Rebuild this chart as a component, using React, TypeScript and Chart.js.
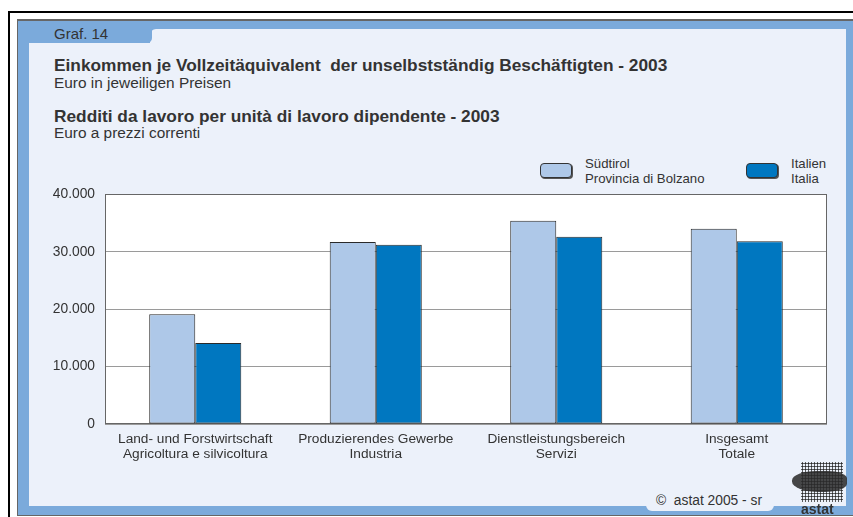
import React, { useEffect, useRef } from "react";
import { Chart, registerables } from "chart.js";

Chart.register(...registerables);

const categoriesDe = ["Land- und Forstwirtschaft", "Produzierendes Gewerbe", "Dienstleistungsbereich", "Insgesamt"];
const categoriesIt = ["Agricoltura e silvicoltura", "Industria", "Servizi", "Totale"];
const seriesNamesDe = ["Südtirol", "Italien"];
const seriesNamesIt = ["Provincia di Bolzano", "Italia"];
const suedtirolValues = [19100, 31700, 35400, 34000];
const italiaValues = [14100, 31200, 32600, 31800];
const yTickValues = [0, 10000, 20000, 30000, 40000];

const FONT = '"Liberation Sans", Arial, Helvetica, sans-serif';
const TEXT = "#333333";
const LIGHT_BAR = "#AEC8E8";
const DARK_BAR = "#0077C0";
const PANEL = "#ECF1FA";
const BLUE = "#7BAADB";

const fmt = (v: number) => (v === 0 ? "0" : String(v).replace(/\B(?=(\d{3})+(?!\d))/g, "."));

const plotFrame = {
  id: "plotFrame",
  beforeDraw(chart: any) {
    const { ctx, chartArea: a } = chart;
    ctx.save();
    ctx.fillStyle = "#ffffff";
    ctx.fillRect(a.left, a.top, a.right - a.left, a.bottom - a.top);
    ctx.restore();
  },
  beforeDatasetsDraw(chart: any) {
    const { ctx, chartArea: a } = chart;
    ctx.save();
    ctx.strokeStyle = "#666666";
    ctx.lineWidth = 1;
    ctx.strokeRect(Math.round(a.left) + 0.5, Math.round(a.top) + 0.5, Math.round(a.right - a.left) - 1, Math.round(a.bottom - a.top) - 1);
    ctx.restore();
  },
};

function BarChart() {
  const ref = useRef<HTMLCanvasElement | null>(null);
  useEffect(() => {
    if (!ref.current) return;
    const chart = new Chart(ref.current, {
      type: "bar",
      data: {
        labels: categoriesDe.map((d, i) => [d, categoriesIt[i]]),
        datasets: [
          {
            label: seriesNamesDe[0],
            data: suedtirolValues,
            backgroundColor: LIGHT_BAR,
            borderColor: "#2a2a2a",
            borderWidth: 1,
            borderSkipped: false,
            categoryPercentage: 0.51,
            barPercentage: 1,
          },
          {
            label: seriesNamesDe[1],
            data: italiaValues,
            backgroundColor: DARK_BAR,
            borderColor: "#2a2a2a",
            borderWidth: 1,
            borderSkipped: false,
            categoryPercentage: 0.51,
            barPercentage: 1,
          },
        ],
      },
      options: {
        animation: false,
        responsive: false,
        maintainAspectRatio: false,
        layout: { padding: { top: 9, right: 8, left: 0, bottom: 0 } },
        plugins: { legend: { display: false }, tooltip: { enabled: false } },
        scales: {
          x: {
            grid: { display: false, drawTicks: false },
            border: { display: false },
            ticks: {
              color: TEXT,
              font: { family: FONT, size: 13.7, lineHeight: 1.1 },
              padding: 8,
              maxRotation: 0,
              autoSkip: false,
            },
            afterFit: (s: any) => {
              s.height = 40;
            },
          },
          y: {
            min: 0,
            max: 40000,
            afterBuildTicks: (s: any) => {
              s.ticks = yTickValues.map((v) => ({ value: v }));
            },
            grid: { color: "#9a9a9a", drawTicks: false, lineWidth: 1 },
            border: { display: false },
            ticks: {
              padding: 10,
              color: TEXT,
              font: { family: FONT, size: 13.8 },
              callback: (v: any) => fmt(Number(v)),
            },
            afterFit: (s: any) => {
              s.width = 60;
            },
          },
        },
      },
      plugins: [plotFrame],
    } as any);
    return () => chart.destroy();
  }, []);
  return (
    <canvas
      ref={ref}
      width={790}
      height={288}
      style={{ position: "absolute", left: 45, top: 176, width: 790, height: 288 }}
    />
  );
}

function LegendItem({ x, color, de, it }: { x: number; color: string; de: string; it: string }) {
  return (
    <div style={{ position: "absolute", left: x, top: 156 }}>
      <div
        style={{
          position: "absolute",
          left: 0,
          top: 7,
          width: 30,
          height: 13,
          background: color,
          border: "1px solid #333",
          borderRadius: 4,
          boxShadow: "1px 1px 0 #555",
        }}
      />
      <div
        style={{
          position: "absolute",
          left: 45,
          top: 0,
          fontFamily: FONT,
          fontSize: 13.2,
          lineHeight: "15px",
          color: TEXT,
          whiteSpace: "nowrap",
        }}
      >
        <div>{de}</div>
        <div>{it}</div>
      </div>
    </div>
  );
}

export default function App() {
  const abs = (o: React.CSSProperties): React.CSSProperties => ({ position: "absolute", ...o });
  const txt = (left: number, top: number, size: number, bold = false): React.CSSProperties =>
    abs({ left, top, fontFamily: FONT, fontSize: size, lineHeight: 1, fontWeight: bold ? "bold" : "normal", color: TEXT, whiteSpace: "pre" });
  return (
    <div style={{ position: "fixed", left: 0, top: 0, width: 853, height: 517, overflow: "hidden", background: "#fff" }}>
      {/* outer black frame */}
      <div style={abs({ left: 8, top: 11, width: 860, height: 520, border: "2px solid #000", boxSizing: "border-box" })} />
      {/* blue panel */}
      <div
        style={abs({
          left: 17,
          top: 19,
          width: 850,
          height: 497,
          background: BLUE,
          borderTop: "2px solid #666",
          borderLeft: "1px solid #666",
          borderBottom: "1px solid #666",
          boxSizing: "border-box",
        })}
      />
      {/* light panel */}
      <div style={abs({ left: 29, top: 43, width: 817, height: 463, background: PANEL })} />
      <div style={abs({ left: 150, top: 29, width: 696, height: 20, background: PANEL, borderTopLeftRadius: 6 })} />
      {/* tab */}
      <div style={abs({ left: 18, top: 21, width: 134, height: 22, background: BLUE, borderBottomRightRadius: 5 })} />
      <div style={txt(54, 25.6, 15)}>Graf. 14</div>

      {/* titles */}
      <div style={txt(54, 57.4, 17.3, true)}>{"Einkommen je Vollzeitäquivalent  der unselbstständig Beschäftigten - 2003"}</div>
      <div style={txt(54, 75, 15.4)}>Euro in jeweiligen Preisen</div>
      <div style={txt(54, 108.4, 17.3, true)}>Redditi da lavoro per unità di lavoro dipendente - 2003</div>
      <div style={txt(54, 125, 15.4)}>Euro a prezzi correnti</div>

      {/* legend */}
      <LegendItem x={540} color={LIGHT_BAR} de={seriesNamesDe[0]} it={seriesNamesIt[0]} />
      <LegendItem x={746} color={DARK_BAR} de={seriesNamesDe[1]} it={seriesNamesIt[1]} />

      <BarChart />

      {/* footer */}
      <div style={abs({ left: 646, top: 490, width: 128, height: 21, background: PANEL, borderRadius: 6 })} />
      <div style={txt(656, 493.5, 13.8)}>{"©  astat 2005 - sr"}</div>
      {/* logo */}
      <div style={abs({ left: 792, top: 471, width: 55, height: 21, background: "#333", borderRadius: "45% 35% 40% 50%", opacity: 0.9 })} />
      <div
        style={abs({
          left: 801,
          top: 462,
          width: 42,
          height: 40,
          backgroundImage: "radial-gradient(circle, #2a2a2a 0.9px, transparent 1.3px)",
          backgroundSize: "3px 3px",
        })}
      />
      <div style={abs({ left: 801, top: 502, fontFamily: FONT, fontSize: 14, lineHeight: 1, fontWeight: "bold", color: "#333" })}>astat</div>
    </div>
  );
}
